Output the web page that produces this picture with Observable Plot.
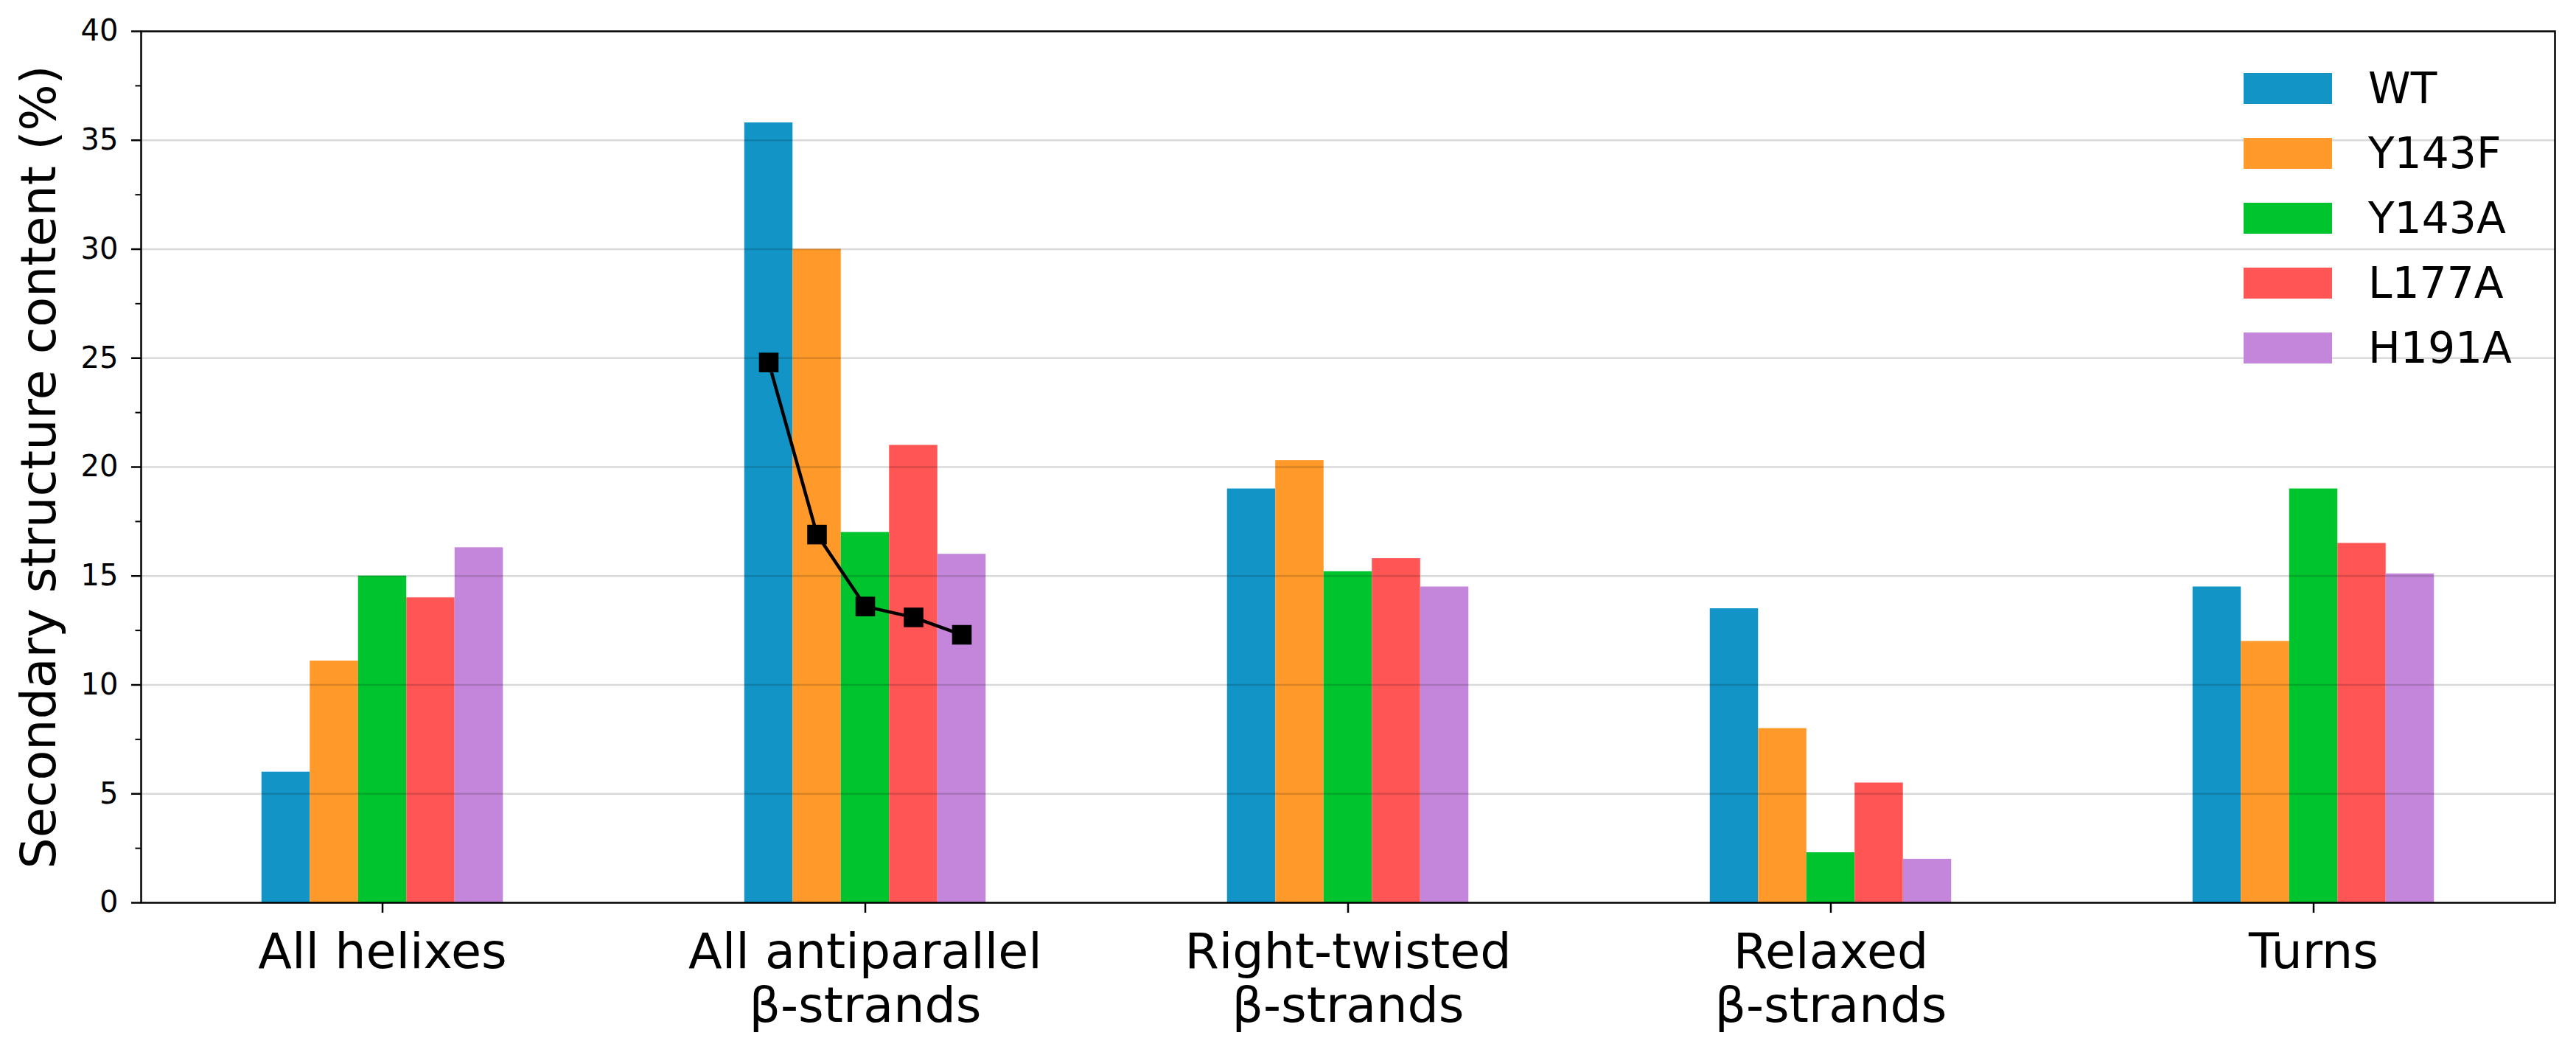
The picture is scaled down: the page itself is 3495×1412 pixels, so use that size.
<!DOCTYPE html>
<html>
<head>
<meta charset="utf-8">
<script src="https://cdn.jsdelivr.net/npm/d3@7"></script>
<script src="https://cdn.jsdelivr.net/npm/@observablehq/plot@0.6"></script>
<style>
  html, body { margin: 0; padding: 0; background: white; }
  #wrap { position: relative; width: 3495px; height: 1412px; font-family: "DejaVu Sans", sans-serif; color: black; }
  #legend { position: absolute; left: 3044px; top: 76px; }
  .row { display: flex; align-items: center; height: 88px; }
  .sw { width: 120px; height: 42px; }
  .lab { margin-left: 49px; font-size: 58.3px; line-height: 1; white-space: nowrap; }
</style>
</head>
<body>
<div id="wrap"><div id="legend"></div></div>
<script>
// ---- data ----
const categories = ["All helixes", "All antiparallel\nβ-strands", "Right-twisted\nβ-strands", "Relaxed\nβ-strands", "Turns"];
const variants = ["WT", "Y143F", "Y143A", "L177A", "H191A"];
const WT    = [6.0, 35.8, 19.0, 13.5, 14.5];
const Y143F = [11.1, 30.0, 20.3, 8.0, 12.0];
const Y143A = [15.0, 17.0, 15.2, 2.3, 19.0];
const L177A = [14.0, 21.0, 15.8, 5.5, 16.5];
const H191A = [16.3, 16.0, 14.5, 2.0, 15.1];
const antiparallelLine = [24.8, 16.9, 13.6, 13.1, 12.3]; // drawn over the "All antiparallel β-strands" group
const colors = ["#1295c6", "#ff992a", "#00c42e", "#ff5555", "#c386da"];
const yTicks = [0, 5, 10, 15, 20, 25, 30, 35, 40];
const yMinorTicks = [2.5, 7.5, 12.5, 17.5, 22.5, 27.5, 32.5, 37.5];
const gridTicks = [5, 10, 15, 20, 25, 30, 35];
const yLabel = "Secondary structure content (%)";

// ---- build table ----
const series = [WT, Y143F, Y143A, L177A, H191A];
const barWidth = 0.1;
const rows = [];
series.forEach((vals, j) => vals.forEach((v, i) => rows.push({i, j, variant: variants[j], value: v})));
const lineRows = antiparallelLine.map((v, j) => ({i: 1, j, value: v}));
const barLeft = d => d.i + (d.j - variants.length / 2) * barWidth;
const barCenter = d => barLeft(d) + barWidth / 2;

const chart = Plot.plot({
  width: 3495,
  height: 1412,
  marginLeft: 191,
  marginRight: 29,
  marginTop: 42,
  marginBottom: 188,
  style: {fontFamily: "DejaVu Sans", color: "black", background: "white"},
  x: {domain: [-0.5, categories.length - 0.5], axis: null},
  y: {domain: [0, 40], axis: null},
  color: {domain: variants, range: colors},
  marks: [
    Plot.rectY(rows, {x1: barLeft, x2: d => barLeft(d) + barWidth, y: "value", fill: "variant"}),
    Plot.gridY(gridTicks, {stroke: "black", strokeOpacity: 0.15, strokeWidth: 2.5}),
    Plot.line(lineRows, {x: barCenter, y: "value", stroke: "black", strokeWidth: 4.5}),
    Plot.dot(lineRows, {x: barCenter, y: "value", symbol: "square", fill: "black", r: 15}),
    Plot.axisX({ticks: d3.range(categories.length), tickFormat: i => categories[i], tickSize: 14, tickPadding: 22,
                fontSize: 66.7, lineHeight: 1.1, label: null, strokeWidth: 2.5}),
    Plot.axisY({ticks: yTicks, tickSize: 13, tickPadding: 18, fontSize: 40, label: null, strokeWidth: 2.5}),
    Plot.axisY({ticks: yMinorTicks, tickSize: 7.5, tickFormat: () => "", label: null, strokeWidth: 2}),
    Plot.axisY({ticks: [], tickSize: 0, label: yLabel, labelAnchor: "center", labelArrow: "none", labelOffset: 164, fontSize: 66.7}),
    Plot.frame({stroke: "black", strokeWidth: 2.5})
  ]
});
document.getElementById("wrap").prepend(chart);

// ---- legend ----
const legend = document.getElementById("legend");
variants.forEach((v, j) => {
  const row = document.createElement("div");
  row.className = "row";
  const sw = document.createElement("div");
  sw.className = "sw";
  sw.style.background = colors[j];
  const lab = document.createElement("div");
  lab.className = "lab";
  lab.textContent = v;
  row.append(sw, lab);
  legend.append(row);
});
</script>
</body>
</html>
